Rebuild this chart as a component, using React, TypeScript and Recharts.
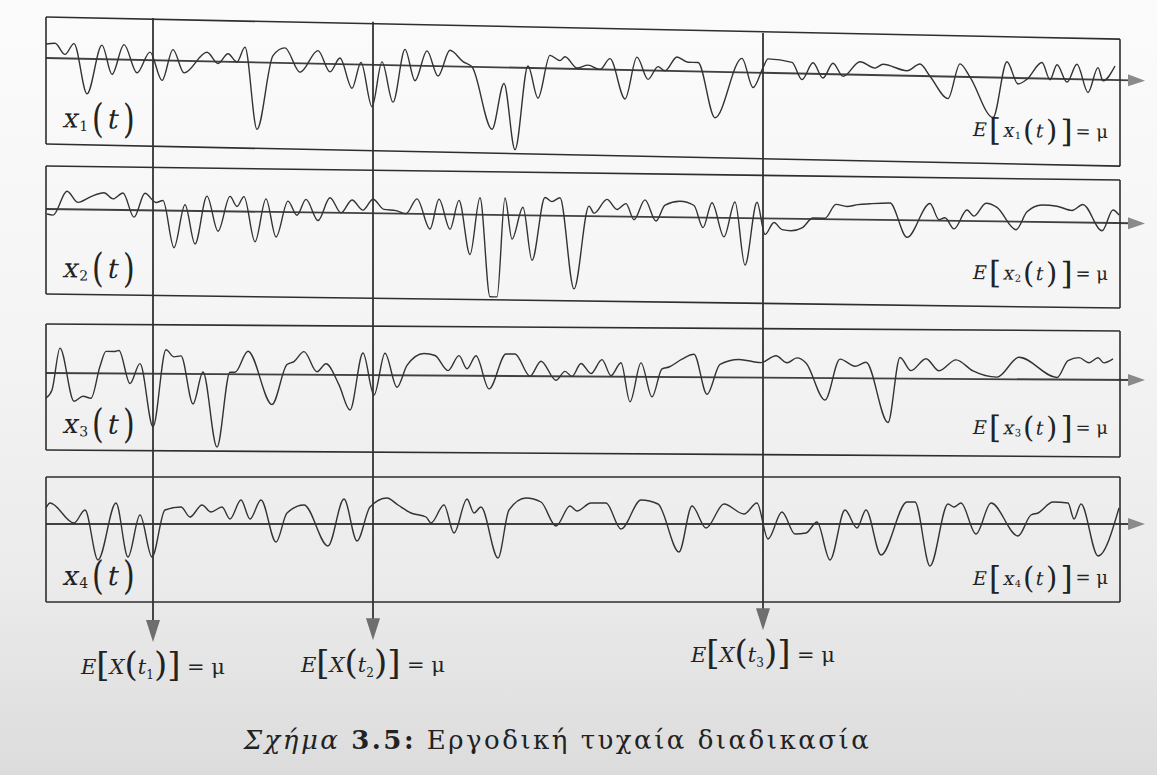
import React from "react"
import { LineChart, Line, XAxis, YAxis, ReferenceLine } from "recharts"

// time axis runs 0..1074 (one sample unit per pixel of the original plot box)
const T_MAX = 1074
const xTicks = [110, 218, 326, 434, 542, 650, 758, 866, 974]
const probeTimes = [107, 327, 717]
const probeLabels = ["1", "2", "3"]

// each realisation: [t, value above the ensemble mean]
const x1Points: [number, number][] = [
  [0, 14], [9, 15], [19, 4], [28, 15], [41, -35], [56, 14], [66, -15], [78, 15], [91, -13], [104, 8],
  [116, -20], [127, 11], [138, -12], [161, 9], [172, -2], [182, 8], [191, 0], [199, 15], [211, -67], [227, 7],
  [239, 15], [254, -9], [272, 13], [284, -8], [294, 6], [306, -24], [315, 2], [326, -42], [336, 3], [347, -37],
  [359, 16], [369, -15], [381, 15], [392, -10], [404, 16], [417, 5], [426, 0], [446, -62], [458, -16], [469, -82],
  [482, 2], [492, -30], [504, 13], [514, 8], [519, 12], [531, 1], [542, 4], [554, 0], [564, 11], [579, -29],
  [591, 13], [602, -9], [612, 4], [619, 0], [631, 14], [642, 9], [652, 9], [669, -46], [696, 14], [707, -15],
  [717, 5], [722, 14], [746, 11], [756, -6], [767, 11], [777, -4], [787, 11], [797, -2], [814, 13], [829, 7],
  [837, 11], [861, 5], [874, 12], [884, 0], [902, -22], [914, 13], [924, 0], [947, -40], [961, 16], [972, -6],
  [981, -1], [996, 16], [1004, -1], [1011, 14], [1021, -3], [1031, 15], [1042, -13], [1052, 12], [1057, -1], [1069, 14],
]

const x2Points: [number, number][] = [
  [1, -5], [7, -6], [21, 18], [32, 7], [45, 13], [58, 17], [67, 11], [77, 17], [88, -7], [99, 17],
  [110, 8], [117, 10], [128, -37], [139, 6], [149, -33], [161, 15], [172, -20], [184, 15], [191, 5], [198, 15],
  [209, -30], [220, 13], [230, -25], [242, 11], [251, -3], [260, 13], [272, -8], [284, 15], [295, 0], [306, 13],
  [317, 3], [327, 14], [338, 4], [350, 3], [360, 0], [371, 15], [384, -15], [393, 15], [404, -15], [413, 14],
  [424, -40], [434, 17], [444, -82], [451, -82], [459, 17], [466, -24], [477, 8], [486, -45], [499, 18], [506, 14],
  [514, 18], [528, -73], [543, 10], [548, 3], [561, 17], [571, 7], [580, 13], [588, -3], [599, 17], [610, -4],
  [619, 12], [634, 16], [648, 12], [657, -10], [666, 15], [678, -19], [689, 16], [699, -47], [711, 16], [719, -16],
  [728, -4], [736, -11], [745, -12], [756, -9], [767, 1], [779, 1], [790, 15], [801, 13], [812, 15], [824, 16],
  [844, 17], [861, -17], [884, 17], [893, 1], [899, 3], [908, -8], [921, 11], [928, 5], [940, 18], [951, 14],
  [970, -8], [981, 10], [996, 17], [1011, 16], [1026, 12], [1037, 18], [1056, -8], [1067, 13], [1073, 8],
]

const x3Points: [number, number][] = [
  [0, -25], [6, -17], [14, 25], [28, -28], [37, -23], [45, -25], [54, 7], [60, 22], [69, 22], [73, 23],
  [84, -10], [94, 10], [107, -53], [120, 24], [128, 17], [135, 18], [147, -30], [157, 2], [171, -73], [184, 2],
  [189, 2], [202, 23], [226, -30], [241, 10], [248, 13], [258, 23], [271, 3], [280, 11], [293, -10], [304, -35],
  [317, 22], [328, -20], [339, 22], [351, -12], [361, 10], [378, 22], [389, 20], [402, 5], [413, 20], [421, 7],
  [430, 20], [443, -13], [460, 22], [469, 22], [484, 0], [495, 15], [510, -4], [519, 5], [526, 0], [535, 13],
  [545, 3], [556, 17], [565, 1], [575, 14], [584, -25], [595, 14], [606, -20], [616, 8], [623, 10], [636, 18],
  [648, 23], [661, -17], [674, 13], [693, 18], [715, 15], [730, 22], [741, 15], [751, 20], [760, 15], [779, -22],
  [794, 19], [809, 12], [820, 16], [842, -44], [854, 21], [865, 8], [880, 20], [893, 8], [910, 19], [927, 8],
  [951, 2], [973, 22], [1011, 2], [1022, 19], [1033, 22], [1043, 17], [1052, 22], [1058, 17], [1067, 21],
]

const x4Points: [number, number][] = [
  [0, 16], [4, 21], [28, 1], [39, 14], [52, -36], [70, 21], [82, -33], [94, 9], [106, -33], [119, 14],
  [135, 17], [144, 7], [156, 19], [165, 12], [176, 17], [184, 5], [195, 24], [204, 5], [215, 24], [230, -18],
  [241, 11], [258, 19], [282, -22], [298, 25], [311, -17], [324, 17], [341, 26], [352, 19], [365, 11], [380, 7],
  [385, 1], [398, 19], [408, -9], [421, 25], [428, 11], [435, 17], [452, -34], [463, 14], [480, 26], [495, 22],
  [510, -2], [524, 18], [531, 13], [545, 21], [560, 21], [575, -5], [595, 24], [612, 20], [633, -28], [646, 18],
  [660, -4], [678, 20], [698, 10], [711, 21], [722, -15], [736, 12], [749, -10], [760, -9], [771, 2], [784, -36],
  [799, 14], [811, -4], [820, 14], [835, -31], [861, 22], [869, 22], [884, -42], [902, 20], [908, 17], [915, 21],
  [930, -10], [945, 21], [972, -12], [985, 9], [992, 11], [1007, 22], [1022, 21], [1028, 5], [1035, 20], [1052, -32],
  [1073, 16],
]

const x1Ticks = [15, -10, -35, -60]
const x2Ticks = [18, -8, -33, -58]
const x3Ticks = [24, 0, -25, -52]
const x4Ticks = [22, -3, -28, -53]

const SERIF = '"DejaVu Serif", "Liberation Serif", serif'
const INK = "#2e2e2e"
const PLOT_LEFT = 46
const PLOT_RIGHT = 37
const WIDTH = 1157

const panels = [
  { idx: "1", pts: x1Points, ticks: x1Ticks, lo: -86, hi: 41, top: 17, skew: 1.18, lift: 12 },
  { idx: "2", pts: x2Points, ticks: x2Ticks, lo: -85, hi: 43, top: 166, skew: 0.75, lift: 12 },
  { idx: "3", pts: x3Points, ticks: x3Ticks, lo: -77, hi: 49, top: 324, skew: 0.37, lift: 7 },
  { idx: "4", pts: x4Points, ticks: x4Ticks, lo: -78, hi: 47, top: 477, skew: 0, lift: 2 },
]

const slant = { display: "inline-block", transform: "skewX(-12deg)" }

const MeanArrow = (p: any) => {
  const { x1, y1, x2, y2 } = p
  return (
    <g>
      <line x1={x1} y1={y1} x2={x2 - 12} y2={y2} stroke="#404040" strokeWidth={1.8} />
      <polygon points={`${x2},${y2} ${x2 - 17},${y2 - 6} ${x2 - 17},${y2 + 6}`} fill="#8a8a8a" />
    </g>
  )
}

const ProbeArrow = (p: any, n: string) => {
  const { x1, y1, x2, y2 } = p
  return (
    <g>
      <line x1={x1} y1={y1} x2={x2} y2={y2 - 18} stroke="#333" strokeWidth={1.8} />
      <polygon points={`${x2},${y2} ${x2 - 7},${y2 - 22} ${x2 + 7},${y2 - 22}`} fill="#6e6e6e" />
      <text x={x2} y={y2 + 32} textAnchor="middle" fontFamily={SERIF} fontSize={21} fill="#222">
        <tspan fontStyle="italic">E</tspan>
        <tspan fontSize={34} dy={2} fontWeight={300}>[</tspan>
        <tspan fontStyle="italic" dy={-2}>X</tspan>
        <tspan fontSize={34} dy={2}>(</tspan>
        <tspan fontStyle="italic" dy={-2}>t</tspan>
        <tspan fontSize={12} dy={5}>{n}</tspan>
        <tspan fontSize={34} dy={-3}>)</tspan>
        <tspan fontSize={34}>]</tspan>
        <tspan dy={-2}> = μ</tspan>
      </text>
    </g>
  )
}

function Panel({ cfg }: { cfg: (typeof panels)[number] }) {
  const data = cfg.pts.map(([t, v]) => ({ t, v }))
  const boxH = cfg.hi - cfg.lo
  const axisProps = { stroke: INK, strokeWidth: 1.6, tick: false, tickSize: 7, mirror: true, allowDataOverflow: true }
  return (
    <div
      style={{
        position: "absolute",
        left: 0,
        top: cfg.top - 10,
        width: WIDTH,
        height: boxH + 20,
        transform: `skewY(${cfg.skew}deg)`,
        transformOrigin: `${PLOT_LEFT}px 10px`,
      }}
    >
      <LineChart width={WIDTH} height={boxH + 20} data={data} margin={{ top: 10, right: PLOT_RIGHT, bottom: 10, left: PLOT_LEFT }}>
        <XAxis xAxisId="b" type="number" dataKey="t" domain={[0, T_MAX]} ticks={xTicks} {...axisProps} />
        <XAxis xAxisId="t" orientation="top" type="number" dataKey="t" domain={[0, T_MAX]} ticks={xTicks} {...axisProps} />
        <YAxis yAxisId="l" type="number" domain={[cfg.lo, cfg.hi]} ticks={cfg.ticks} {...axisProps} />
        <YAxis yAxisId="r" orientation="right" type="number" domain={[cfg.lo, cfg.hi]} ticks={cfg.ticks} {...axisProps} />
        <ReferenceLine
          xAxisId="b"
          yAxisId="l"
          ifOverflow="visible"
          segment={[{ x: 0, y: 0 }, { x: 1099, y: 0 }]}
          shape={MeanArrow}
        />
        <Line
          xAxisId="b"
          yAxisId="l"
          type="monotone"
          dataKey="v"
          stroke="#333"
          strokeWidth={1.4}
          dot={false}
          isAnimationActive={false}
        />
      </LineChart>
      <div
        style={{
          position: "absolute",
          left: 64,
          top: boxH + 10 - 22 - 22 - 5,
          height: 44,
          display: "flex",
          alignItems: "center",
          fontFamily: SERIF,
          fontSize: 27,
          color: "#222",
          lineHeight: 1,
        }}
      >
        <span style={slant}>x</span>
        <span style={{ fontSize: 14, alignSelf: "flex-end", marginBottom: 7, marginRight: 2 }}>{cfg.idx}</span>
        <span style={{ fontSize: 40, fontWeight: 300, display: "inline-block", transform: "scaleX(0.75)" }}>(</span>
        <span style={{ ...slant, margin: "0 2px" }}>t</span>
        <span style={{ fontSize: 40, fontWeight: 300, display: "inline-block", transform: "scaleX(0.75)" }}>)</span>
      </div>
      <div
        style={{
          position: "absolute",
          right: WIDTH - 1108,
          top: boxH + 10 - 22 - 20 - cfg.lift,
          height: 40,
          display: "flex",
          alignItems: "center",
          fontFamily: SERIF,
          fontSize: 19,
          color: "#222",
          lineHeight: 1,
        }}
      >
        <span style={slant}>E</span>
        <span style={{ fontSize: 31, fontWeight: 300, margin: "0 3px 0 2px" }}>[</span>
        <span style={slant}>x</span>
        <span style={{ fontSize: 10, alignSelf: "flex-end", marginBottom: 9, marginRight: 2 }}>{cfg.idx}</span>
        <span style={{ fontSize: 29, fontWeight: 300 }}>(</span>
        <span style={{ ...slant, margin: "0 2px" }}>t</span>
        <span style={{ fontSize: 29, fontWeight: 300 }}>)</span>
        <span style={{ fontSize: 31, fontWeight: 300, margin: "0 3px" }}>]</span>
        <span style={{ fontSize: 18 }}>= μ</span>
      </div>
    </div>
  )
}

export default function App() {
  const probeData = probeTimes.map((t) => ({ t }))
  const probeSpans = [
    [1, 0],
    [0.994, 0.003],
    [0.976, 0.019],
  ]
  return (
    <div
      style={{
        position: "absolute",
        left: 0,
        top: 0,
        width: WIDTH,
        height: 775,
        overflow: "hidden",
        background: "linear-gradient(to bottom, #fbfbfb 0%, #f5f5f5 40%, #ebebeb 75%, #dcdcdc 100%)",
      }}
    >
      {panels.map((cfg) => (
        <Panel key={cfg.idx} cfg={cfg} />
      ))}
      <div style={{ position: "absolute", left: 0, top: 0 }}>
        <LineChart width={WIDTH} height={700} data={probeData} margin={{ top: 18, right: PLOT_RIGHT, bottom: 58, left: PLOT_LEFT }}>
          <XAxis type="number" dataKey="t" domain={[0, T_MAX]} hide allowDataOverflow />
          <YAxis type="number" domain={[0, 1]} hide allowDataOverflow />
          {probeTimes.map((t, i) => (
            <ReferenceLine
              key={t}
              ifOverflow="visible"
              segment={[{ x: t, y: probeSpans[i][0] }, { x: t, y: probeSpans[i][1] }]}
              shape={(p: any) => ProbeArrow(p, probeLabels[i])}
            />
          ))}
        </LineChart>
      </div>
      <div
        style={{
          position: "absolute",
          left: 0,
          width: 1115,
          top: 725,
          textAlign: "center",
          fontFamily: SERIF,
          fontSize: 26,
          color: "#222",
          letterSpacing: 2.5,
        }}
      >
        <i>Σχήμα</i> <b>3.5:</b> Εργοδική τυχαία διαδικασία
      </div>
    </div>
  )
}
